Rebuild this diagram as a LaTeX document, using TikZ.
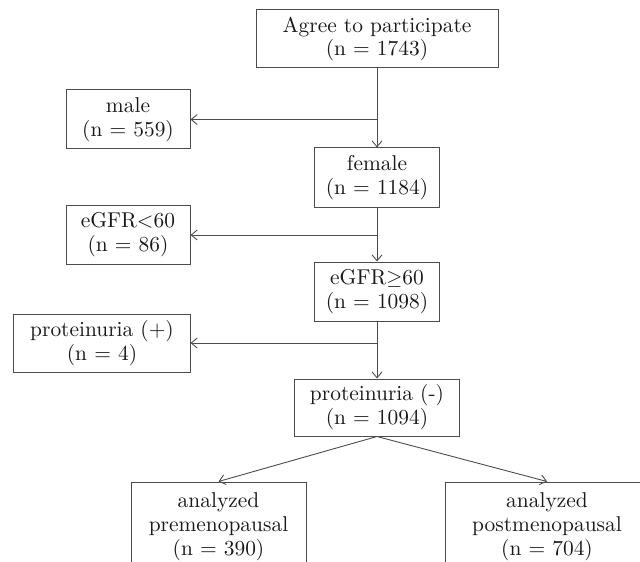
\documentclass[tikz,border=0pt]{standalone}
\usepackage{fontspec}
\setmainfont{lmroman10-regular.otf}
\usetikzlibrary{arrows.meta}
\begin{document}
\begin{tikzpicture}[x=1bp, y=-1bp, >={Straight Barb[length=6bp,width=10bp]}]
	\tikzset{every node/.style={font=\fontsize{21.5}{24}\selectfont, align=center, inner sep=0pt, text=black!90}}
	\tikzset{box/.style={draw=black!70, line width=1bp}}
	\tikzset{link/.style={draw=black!70, line width=0.9bp, ->}}
	\clip (0,0) rectangle (640,562);
	\def\mx{377} % main column
	% --- 1. Main column ---
	\node[box, minimum width=242bp, minimum height=58bp] (agree) at (\mx,39) {Agree to participate\\(n = 1743)};
	\node[box, minimum width=125bp, minimum height=60bp] (female) at (\mx,178) {female\\(n = 1184)};
	\node[box, minimum width=125bp, minimum height=59bp] (egfrok) at (\mx,291.5) {eGFR$\geq$60\\(n = 1098)};
	\node[box, minimum width=165bp, minimum height=57bp] (protneg) at (\mx,407.5) {proteinuria (-)\\(n = 1094)};
	% --- 2. Excluded (left) ---
	\node[box, minimum width=124bp, minimum height=59bp] (male) at (128,119.5) {male\\(n = 559)};
	\node[box, minimum width=124bp, minimum height=58bp] (egfrlow) at (128,235) {eGFR<60\\(n = 86)};
	\node[box, minimum width=176bp, minimum height=58bp] (protpos) at (102,343) {proteinuria (+)\\(n = 4)};
	% --- 3. Analyzed groups ---
	\node[box, minimum width=175bp, minimum height=90bp] (pre) at (218.5,527) {analyzed\\premenopausal\\(n = 390)};
	\node[box, minimum width=204bp, minimum height=90bp] (post) at (547,527) {analyzed\\postmenopausal\\(n = 704)};
	% --- 4. Arrows ---
	\coordinate (j1) at (agree.south |- male.east);
	\coordinate (j2) at (female.south |- egfrlow.east);
	\coordinate (j3) at (egfrok.south |- protpos.east);
	\draw[link] (agree) -- (female);
	\draw[link] (female) -- (egfrok);
	\draw[link] (egfrok) -- (protneg);
	\draw[link] (j1) -- (male);
	\draw[link] (j2) -- (egfrlow);
	\draw[link] (j3) -- (protpos);
	\draw[link] (protneg.south) -- (pre.north);
	\draw[link] (protneg.south) -- (post.north);
\end{tikzpicture}
\end{document}
